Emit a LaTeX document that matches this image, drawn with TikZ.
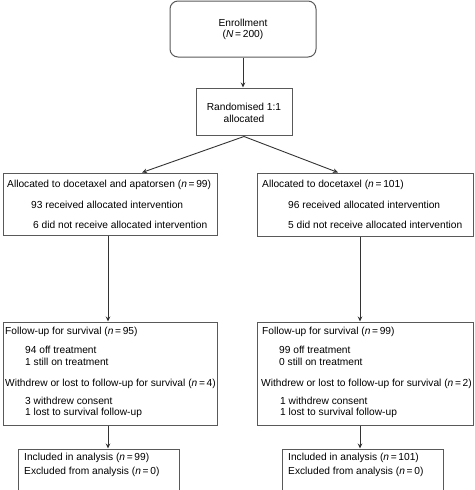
\documentclass[tikz,border=0pt]{standalone}
\usepackage{fontspec}
\setmainfont{Liberation Sans}
\usetikzlibrary{arrows.meta}

\tikzset{
  box/.style={draw=black!65, line width=1pt, inner sep=0pt},
  txt/.style={anchor=west, inner sep=0pt, font=\fontsize{10.2}{12}\selectfont},
  ctxt/.style={inner sep=0pt, font=\fontsize{10.2}{12}\selectfont},
  arr/.style={draw=black!80, line width=0.9pt, -{Stealth[length=5pt,width=4.5pt]}}
}

\begin{document}
\begin{tikzpicture}[x=1pt, y=-1pt]
        \useasboundingbox (0,0) rectangle (474,490);
        \clip (0,0) rectangle (474,490);

        % boxes
        \node[box, rounded corners=8pt, minimum width=146pt, minimum height=56pt] (enrol) at (243,29) {};
        \node[box, minimum width=96pt, minimum height=47pt] (rand) at (244,111.5) {};
        \node[box, minimum width=214pt, minimum height=62pt] (allocA) at (110,204) {};
        \node[box, minimum width=216pt, minimum height=63pt] (allocB) at (365,204.5) {};
        \node[box, minimum width=214pt, minimum height=103pt] (fuA) at (110,373.5) {};
        \node[box, minimum width=216pt, minimum height=103pt] (fuB) at (365,373.5) {};
        \node[box, minimum width=161pt, minimum height=51pt] (anA) at (98.5,474.5) {};
        \node[box, minimum width=161pt, minimum height=51pt] (anB) at (362.5,474.5) {};

        % texts
        \node[ctxt] (enrolT1) at (243,23) {Enrollment};
        \node[ctxt] (enrolT2) at (243,35) {(\textit{N}\,=\,200)};
        \node[ctxt] (randT1) at (244,107) {Randomised 1:1};
        \node[ctxt] (randT2) at (244,119) {allocated};

        \node[txt] (allocAT1) at (7,185) {Allocated to docetaxel and apatorsen (\textit{n}\,=\,99)};
        \node[txt] (allocAT2) at (31,205) {93 received allocated intervention};
        \node[txt] (allocAT3) at (33,225) {6 did not receive allocated intervention};
        \node[txt] (allocBT1) at (262,185) {Allocated to docetaxel (\textit{n}\,=\,101)};
        \node[txt] (allocBT2) at (288,205) {96 received allocated intervention};
        \node[txt] (allocBT3) at (288,225) {5 did not receive allocated intervention};

        \node[txt] (fuAT1) at (5,332) {Follow-up for survival (\textit{n}\,=\,95)};
        \node[txt] (fuAT2) at (25,350) {94 off treatment};
        \node[txt] (fuAT3) at (25,362) {1 still on treatment};
        \node[txt] (fuAT4) at (5,384) {Withdrew or lost to follow-up for survival (\textit{n}\,=\,4)};
        \node[txt] (fuAT5) at (25,401) {3 withdrew consent};
        \node[txt] (fuAT6) at (25,413) {1 lost to survival follow-up};
        \node[txt] (fuBT1) at (262,332) {Follow-up for survival (\textit{n}\,=\,99)};
        \node[txt] (fuBT2) at (279,350) {99 off treatment};
        \node[txt] (fuBT3) at (279,362) {0 still on treatment};
        \node[txt] (fuBT4) at (261,384) {Withdrew or lost to follow-up for survival (\textit{n}\,=\,2)};
        \node[txt] (fuBT5) at (280,401) {1 withdrew consent};
        \node[txt] (fuBT6) at (280,413) {1 lost to survival follow-up};

        \node[txt] (anAT1) at (24,458) {Included in analysis (\textit{n}\,=\,99)};
        \node[txt] (anAT2) at (24,472) {Excluded from analysis (\textit{n}\,=\,0)};
        \node[txt] (anBT1) at (288,458) {Included in analysis (\textit{n}\,=\,101)};
        \node[txt] (anBT2) at (288,472) {Excluded from analysis (\textit{n}\,=\,0)};

        % connectors
        \draw[arr] (enrol.south) -- (enrol.south |- rand.north);
        \draw[arr] ([yshift=-1pt]rand.south) -- ([xshift=32pt]allocA.north);
        \draw[arr] ([yshift=-1pt]rand.south) -- ([xshift=-27pt]allocB.north);
        \draw[arr] ([xshift=-2pt]allocA.south) -- ([xshift=-2pt]fuA.north);
        \draw[arr] ([xshift=-5pt]allocB.south) -- ([xshift=-5pt]fuB.north);
        \draw[arr] ([xshift=-2pt]fuA.south) -- ([xshift=-2pt]fuA.south |- anA.north);
        \draw[arr] ([xshift=-5pt]fuB.south) -- ([xshift=-5pt]fuB.south |- anB.north);
    \end{tikzpicture}
\end{document}
